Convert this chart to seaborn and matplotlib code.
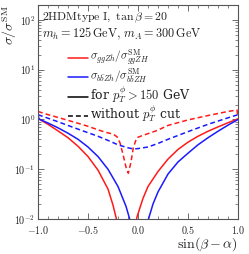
import numpy as np
import pandas as pd
import matplotlib
matplotlib.use("Agg")
import matplotlib.pyplot as plt
import seaborn as sns

# ---- data ----
red_solid_l_x = [-1.0, -0.9, -0.8, -0.7, -0.6, -0.5, -0.4, -0.3, -0.25, -0.213, -0.19]
red_solid_l_y = [1.05, 0.80, 0.59, 0.43, 0.29, 0.18, 0.096, 0.040, 0.019, 0.0095, 0.005]
red_solid_r_x = [-0.04, -0.01, 0.05, 0.1, 0.2, 0.3, 0.4, 0.5, 0.6, 0.7, 0.8, 0.9, 1.0]
red_solid_r_y = [0.005, 0.011, 0.026, 0.045, 0.09, 0.16, 0.25, 0.35, 0.46, 0.58, 0.71, 0.86, 1.03]

blue_solid_l_x = [-1.0, -0.99, -0.9, -0.8, -0.7, -0.6, -0.5, -0.4, -0.3, -0.2, -0.12, -0.08, -0.06]
blue_solid_l_y = [1.26, 1.02, 0.85, 0.68, 0.53, 0.40, 0.28, 0.18, 0.10, 0.045, 0.018, 0.0095, 0.005]
blue_solid_r_x = [0.09, 0.105, 0.15, 0.2, 0.3, 0.4, 0.5, 0.6, 0.7, 0.8, 0.9, 1.0]
blue_solid_r_y = [0.005, 0.01, 0.02, 0.035, 0.08, 0.14, 0.21, 0.31, 0.43, 0.58, 0.77, 1.0]

red_dash_x = [-1.0, -0.9, -0.8, -0.7, -0.6, -0.5, -0.4, -0.32, -0.25, -0.21, -0.18, -0.15,
              -0.12, -0.097, -0.07, -0.047, -0.013, 0.05, 0.19, 0.3, 0.5, 0.7, 0.9, 0.99, 1.0]
red_dash_y = [1.45, 1.25, 1.1, 0.96, 0.84, 0.73, 0.62, 0.55, 0.51, 0.45, 0.34, 0.2,
              0.11, 0.083, 0.14, 0.27, 0.43, 0.48, 0.6, 0.76, 0.98, 1.2, 1.45, 1.55, 1.1]

blue_dash_x = [-1.0, -0.8, -0.6, -0.4, -0.3, -0.2, -0.1, -0.047, 0.0, 0.1, 0.2, 0.3, 0.5, 0.7, 0.9, 1.0]
blue_dash_y = [1.25, 0.9, 0.64, 0.46, 0.38, 0.31, 0.27, 0.256, 0.26, 0.28, 0.33, 0.4, 0.57, 0.8, 1.08, 1.25]

xticks = [-1.0, -0.5, 0.0, 0.5, 1.0]
xticklabels = ["$-1.0$", "$-0.5$", "$0.0$", "$0.5$", "$1.0$"]
yticks = [1e-2, 1e-1, 1e0, 1e1, 1e2]
yticklabels = ["$10^{-2}$", "$10^{-1}$", "$10^{0}$", "$10^{1}$", "$10^{2}$"]

legend_labels = [
    r"$\sigma_{ggZh}/\sigma^{\rm SM}_{ggZH}$",
    r"$\sigma_{b\bar{b}Zh}/\sigma^{\rm SM}_{b\bar{b}ZH}$",
    r"for $p_T^{\phi} > 150$ GeV",
    r"without $p_T^{\phi}$ cut",
]

sns.set_style("ticks")
plt.rcParams["mathtext.fontset"] = "cm"
plt.rcParams["font.family"] = ["DejaVu Serif"]

TXT = "#222222"
RED = "#ff1a1a"
BLUE = "#1a1aff"

fig = plt.figure(figsize=(2.49, 2.54), dpi=100)
ax = fig.add_axes([38/249, 1 - 219/254, 200/249, 214/254])

lw = 1.1
dash = (0, (3.2, 2.0))

def draw(x, y, color, ls):
    df = pd.DataFrame({"x": x, "y": y})
    sns.lineplot(data=df, x="x", y="y", ax=ax, color=color, lw=lw, linestyle=ls,
                 sort=False, estimator=None, legend=False)

draw(red_solid_l_x, red_solid_l_y, RED, "-")
draw(red_solid_r_x, red_solid_r_y, RED, "-")
draw(blue_solid_l_x, blue_solid_l_y, BLUE, "-")
draw(blue_solid_r_x, blue_solid_r_y, BLUE, "-")
draw(red_dash_x, red_dash_y, RED, dash)
draw(blue_dash_x, blue_dash_y, BLUE, dash)

ax.set_yscale("log")
ax.set_xlim(-1.0, 1.0)
ax.set_ylim(1e-2, 2e2)
ax.set_xticks(xticks)
ax.set_xticklabels(xticklabels)
ax.set_yticks(yticks)
ax.set_yticklabels(yticklabels)
ax.xaxis.set_minor_locator(matplotlib.ticker.MultipleLocator(0.1))
ax.yaxis.set_minor_locator(matplotlib.ticker.LogLocator(base=10, subs=np.arange(2, 10)))
ax.yaxis.set_minor_formatter(matplotlib.ticker.NullFormatter())
ax.tick_params(which="both", direction="in", top=True, right=True, colors="#555555",
               labelcolor=TXT, labelsize=7.2, pad=2)
ax.tick_params(axis="x", which="major", pad=3.5)
ax.tick_params(which="major", length=4, width=0.6)
ax.tick_params(which="minor", length=2, width=0.5)
for s in ax.spines.values():
    s.set_color("#555555")
    s.set_linewidth(0.8)

ax.set_xlabel(r"$\sin(\beta-\alpha)$", fontsize=10, color=TXT)
ax.xaxis.set_label_coords(1.0, -0.074)
ax.xaxis.label.set_ha("right")
ax.xaxis.label.set_va("top")
ax.set_ylabel(r"$\sigma/\sigma^{\rm SM}$", fontsize=10, color=TXT)
ax.yaxis.set_label_coords(-0.143, 1.0)
ax.yaxis.label.set_ha("right")
ax.yaxis.label.set_va("center")

ax.text(0.02, 0.975, r"$\mathrm{2HDMtype\ I,\ }\tan\beta=20$", transform=ax.transAxes,
        fontsize=8.5, color=TXT, va="top", ha="left")
ax.text(0.02, 0.905, r"$m_h=125\,\mathrm{GeV},\,m_A=300\,\mathrm{GeV}$", transform=ax.transAxes,
        fontsize=8.8, color=TXT, va="top", ha="left")

# legend drawn as key lines + labels in axes coordinates
row_px = [58, 77, 97, 116]
row_fs = [8.2, 8.2, 9.0, 9.0]
key_colors = [RED, BLUE, "black", "black"]
key_styles = ["-", "-", "-", dash]
x0, x1, xt = 0.15, 0.25, 0.26
for ypx, fs, c, ls, lab in zip(row_px, row_fs, key_colors, key_styles, legend_labels):
    yf = (219 - ypx) / 214
    ax.plot([x0, x1], [yf, yf], transform=ax.transAxes, color=c, lw=lw, linestyle=ls,
            clip_on=False)
    ax.text(xt, yf - 3.0/214, lab, transform=ax.transAxes, fontsize=fs, color=TXT,
            ha="left", va="baseline")

fig.savefig("out.png", dpi=100)
